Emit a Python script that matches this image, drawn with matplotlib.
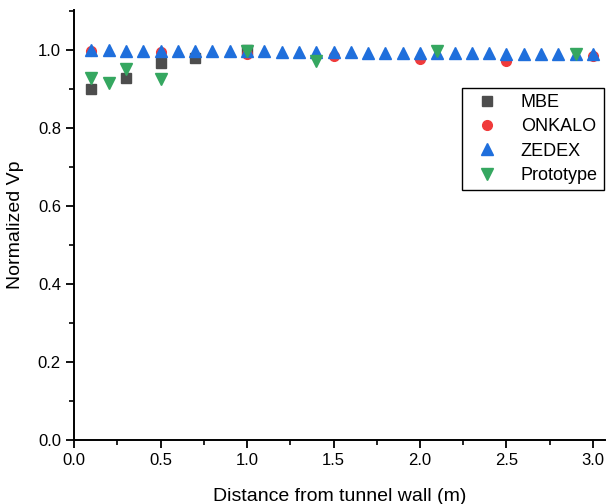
import matplotlib
matplotlib.use("Agg")
import matplotlib.pyplot as plt
from matplotlib.ticker import MultipleLocator

plt.rcParams['font.family'] = ['Liberation Sans', 'DejaVu Sans']

# data
mbe_x = [0.1, 0.3, 0.5, 0.7, 1.0]
mbe_y = [0.900, 0.929, 0.967, 0.979, 1.000]

onkalo_x = [0.1, 0.5, 1.0, 1.5, 2.0, 2.5, 3.0]
onkalo_y = [0.999, 0.995, 0.990, 0.984, 0.978, 0.972, 0.986]

zedex_x = [0.1, 0.2, 0.3, 0.4, 0.5, 0.6, 0.7, 0.8, 0.9, 1.0,
           1.1, 1.2, 1.3, 1.4, 1.5, 1.6, 1.7, 1.8, 1.9, 2.0,
           2.1, 2.2, 2.3, 2.4, 2.5, 2.6, 2.7, 2.8, 2.9, 3.0]
zedex_y = [1.000, 1.000, 0.999, 0.999, 0.998, 0.998, 0.998, 0.997, 0.997, 0.997,
           0.997, 0.996, 0.996, 0.995, 0.995, 0.995, 0.994, 0.994, 0.993, 0.993,
           0.993, 0.992, 0.992, 0.992, 0.991, 0.991, 0.991, 0.990, 0.990, 0.990]

proto_x = [0.1, 0.2, 0.3, 0.5, 1.0, 1.4, 2.1, 2.9]
proto_y = [0.929, 0.917, 0.951, 0.926, 0.997, 0.972, 0.998, 0.991]

fig = plt.figure(figsize=(6.08, 5.04), dpi=100)
ax = fig.add_axes([0.122, 0.127, 0.873, 0.853])

ax.plot(mbe_x, mbe_y, 's', color='#4d4d4d', ms=7, mec='#4d4d4d', label='MBE')
ax.plot(onkalo_x, onkalo_y, 'o', color='#f03a3a', ms=7, mec='#f03a3a', label='ONKALO')
ax.plot(zedex_x, zedex_y, '^', color='#1f6fdc', ms=8.5, mec='#1f6fdc', label='ZEDEX')
ax.plot(proto_x, proto_y, 'v', color='#35a760', ms=8.5, mec='#35a760', label='Prototype')

ax.set_xlim(0, 3.07)
ax.set_ylim(0, 1.103)
ax.xaxis.set_major_locator(MultipleLocator(0.5))
ax.xaxis.set_minor_locator(MultipleLocator(0.25))
ax.yaxis.set_major_locator(MultipleLocator(0.2))
ax.yaxis.set_minor_locator(MultipleLocator(0.1))
ax.xaxis.set_major_formatter(lambda v, p: f"{v:.1f}")
ax.yaxis.set_major_formatter(lambda v, p: f"{v:.1f}")

for s in ['top', 'right']:
    ax.spines[s].set_visible(False)
for s in ['left', 'bottom']:
    ax.spines[s].set_linewidth(1.4)
ax.tick_params(which='major', direction='out', length=6, width=1.3, labelsize=12, colors='black')
ax.tick_params(which='minor', direction='out', length=3.5, width=1.2)

ax.set_xlabel('Distance from tunnel wall (m)', fontsize=14, labelpad=14)
ax.set_ylabel('Normalized Vp', fontsize=14, labelpad=10)

leg = ax.legend(loc='upper right', bbox_to_anchor=(0.9985, 0.819), fontsize=13,
                fancybox=False, edgecolor='black', framealpha=1, borderpad=0.35,
                handletextpad=0.9, labelspacing=0.4, handlelength=2.0, borderaxespad=0)
leg.get_frame().set_linewidth(1.0)

fig.savefig('out.png', dpi=100)
